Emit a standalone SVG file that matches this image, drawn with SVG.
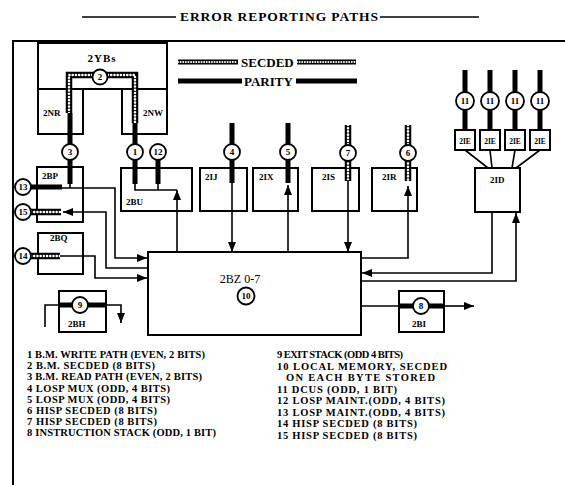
<svg xmlns="http://www.w3.org/2000/svg" width="565" height="485" viewBox="0 0 565 485">
<defs>
<style>
.box{fill:none;stroke:#000;stroke-width:2}
.ln{fill:none;stroke:#000;stroke-width:1.6}
.par{fill:none;stroke:#000;stroke-width:5}
.sx{fill:none;stroke:#000;stroke-width:6.5}
.si{fill:none;stroke:#fff;stroke-width:2.6;stroke-dasharray:0.01 3.2;stroke-linecap:round}
.cir{fill:#fff;stroke:#000;stroke-width:1.8}
.cn{font-family:"Liberation Serif","Times New Roman",serif;font-weight:bold;font-size:9px;text-anchor:middle}
.lb{font-family:"Liberation Serif","Times New Roman",serif;font-weight:bold;font-size:9px}
.lbs{font-family:"Liberation Serif","Times New Roman",serif;font-weight:bold;font-size:7.5px;text-anchor:middle}
.leg{font-family:"Liberation Serif","Times New Roman",serif;font-weight:bold;font-size:10.5px}
.key{font-family:"Liberation Serif","Times New Roman",serif;font-weight:bold;font-size:13px}
</style>
<marker id="ah" viewBox="0 0 10 8" refX="10" refY="4" markerWidth="10" markerHeight="8" markerUnits="userSpaceOnUse" orient="auto"><path d="M0,0 L10,4 L0,8 z" fill="#000"/></marker>
</defs>
<rect width="565" height="485" fill="#fff"/>

<g id="title">
<path class="ln" d="M82,17 H176 M380,17 H479"/>
<text x="180" y="21" textLength="198" lengthAdjust="spacing" font-family="Liberation Serif, Times New Roman, serif" font-weight="bold" font-size="13.5">ERROR REPORTING PATHS</text>
</g>

<g id="frame"><path d="M13,485 V41 H565" fill="none" stroke="#000" stroke-width="2"/></g>

<g id="key">
<path class="sx" d="M178,62 H238 M297,62 H356" style="stroke-width:5"/>
<path class="si" d="M178,62 H238 M297,62 H356" style="stroke-width:2;stroke-dasharray:0.01 2.6"/>
<text class="key" x="241" y="67">SECDED</text>
<path class="par" d="M178,81 H242 M296,81 H357"/>
<text class="key" x="244" y="86">PARITY</text>
</g>

<g id="n-2YBs"><rect class="box" x="38" y="43" width="129" height="46"/><text x="102" y="62" font-family="Liberation Serif, serif" font-weight="bold" font-size="11" letter-spacing="1" text-anchor="middle">2YBs</text></g>
<g id="n-2NR"><rect class="box" x="38" y="89" width="45" height="45"/><text class="lb" x="43" y="116">2NR</text></g>
<g id="n-2NW"><rect class="box" x="122" y="89" width="45" height="45"/><text class="lb" x="143" y="116">2NW</text></g>
<g id="n-2BP"><rect class="box" x="37" y="167" width="46" height="55"/><text class="lb" x="42" y="179">2BP</text></g>
<g id="n-2BQ"><rect class="box" x="38" y="233" width="45" height="41"/><text class="lb" x="50" y="241">2BQ</text></g>
<g id="n-2BU"><rect class="box" x="121" y="168" width="71" height="43"/><text class="lb" x="126" y="205" font-size="9.5">2BU</text></g>
<g id="n-2IJ"><rect class="box" x="200" y="168" width="47" height="43"/><text class="lb" x="205" y="180" font-size="8.5">2IJ</text></g>
<g id="n-2IX"><rect class="box" x="253" y="168" width="45" height="43"/><text class="lb" x="259" y="180" font-size="8.5">2IX</text></g>
<g id="n-2IS"><rect class="box" x="312" y="168" width="47" height="43"/><text class="lb" x="322" y="180" font-size="8.5">2IS</text></g>
<g id="n-2IR"><rect class="box" x="372" y="168" width="45" height="43"/><text class="lb" x="382" y="180" font-size="8.5">2IR</text></g>
<g id="n-2ID"><rect class="box" x="475" y="168" width="45" height="44"/><text class="lb" x="490" y="183">2ID</text></g>
<g id="n-2IE-1"><rect class="box" x="455" y="130" width="20" height="20"/><text class="lbs" x="465" y="143.5">2IE</text></g>
<g id="n-2IE-2"><rect class="box" x="480" y="130" width="20" height="20"/><text class="lbs" x="490" y="143.5">2IE</text></g>
<g id="n-2IE-3"><rect class="box" x="505" y="130" width="20" height="20"/><text class="lbs" x="515" y="143.5">2IE</text></g>
<g id="n-2IE-4"><rect class="box" x="530" y="130" width="20" height="20"/><text class="lbs" x="540" y="143.5">2IE</text></g>
<g id="n-2BZ"><rect class="box" x="148" y="252" width="213" height="83"/><text x="240" y="283" font-family="Liberation Serif, serif" font-size="12" text-anchor="middle">2BZ 0-7</text></g>
<g id="n-2BH"><rect class="box" x="59" y="291" width="47" height="41"/><text class="lb" x="68" y="327" font-size="9.5">2BH</text></g>
<g id="n-2BI"><rect class="box" x="399" y="291" width="45" height="41"/><text class="lb" x="412" y="327" font-size="9.5">2BI</text></g>

<g id="connectors">
<path class="sx" d="M69,113 V75 H135 V123 M348,125 V181 M408,125 V181 M31,212 H61 M31,256 H60"/>
<path class="si" d="M69,113 V75 H135 V123 M348,125 V181 M408,125 V181 M31,212 H61 M31,256 H60"/>
<path class="par" d="M70,113 V184 M135,123 V184 M158,160 V184 M232,123 V183 M288,123 V183 M465,70 V130 M490,70 V130 M515,70 V130 M540,70 V130 M31,187 H62 M59,305 H106 M399,306 H444"/>
<path class="ln" d="M70,183 V188 M62,188 H115 V258 H147" marker-end="url(#ah)"/>
<path class="ln" d="M148,268 H106 V212 H63" marker-end="url(#ah)"/>
<path class="ln" d="M60,256 H95 V278 H147" marker-end="url(#ah)"/>
<path class="ln" d="M135,183 V190 H177 M158,183 V190"/>
<path class="ln" d="M177,252 V190" marker-end="url(#ah)"/>
<path class="ln" d="M232,183 V252" marker-end="url(#ah)"/>
<path class="ln" d="M288,252 V185" marker-end="url(#ah)"/>
<path class="ln" d="M348,180 V252" marker-end="url(#ah)"/>
<path class="ln" d="M361,258 H408 V186" marker-end="url(#ah)"/>
<path class="ln" d="M492,212 V273 H362" marker-end="url(#ah)"/>
<path class="ln" d="M361,281 H516 V213" marker-end="url(#ah)"/>
<path class="ln" d="M465,150 L488,168 M490,150 L492,168 M515,150 L512,168 M540,150 L516,168"/>
<path class="ln" d="M45,327 V305 H59"/>
<path class="ln" d="M106,305 H121 V323" marker-end="url(#ah)"/>
<path class="ln" d="M361,306 H399"/>
<path class="ln" d="M444,306 H474" marker-end="url(#ah)"/>
<g><circle class="cir" cx="100" cy="77" r="7.5"/><text class="cn" x="100" y="80">2</text></g>
<g><circle class="cir" cx="70" cy="152" r="8"/><text class="cn" x="70" y="155">3</text></g>
<g><circle class="cir" cx="135" cy="152" r="8"/><text class="cn" x="135" y="155">1</text></g>
<g><circle class="cir" cx="158" cy="152" r="8"/><text class="cn" x="158" y="155">12</text></g>
<g><circle class="cir" cx="232" cy="152" r="8"/><text class="cn" x="232" y="155">4</text></g>
<g><circle class="cir" cx="288" cy="152" r="8"/><text class="cn" x="288" y="155">5</text></g>
<g><circle class="cir" cx="348" cy="153" r="8"/><text class="cn" x="348" y="156">7</text></g>
<g><circle class="cir" cx="408" cy="153" r="8"/><text class="cn" x="408" y="156">6</text></g>
<g><circle class="cir" cx="465" cy="101" r="9"/><text class="cn" x="465" y="104">11</text></g>
<g><circle class="cir" cx="490" cy="101" r="9"/><text class="cn" x="490" y="104">11</text></g>
<g><circle class="cir" cx="515" cy="101" r="9"/><text class="cn" x="515" y="104">11</text></g>
<g><circle class="cir" cx="540" cy="101" r="9"/><text class="cn" x="540" y="104">11</text></g>
<g><circle class="cir" cx="23" cy="187" r="8"/><text class="cn" x="23" y="190">13</text></g>
<g><circle class="cir" cx="23" cy="212" r="8"/><text class="cn" x="23" y="215">15</text></g>
<g><circle class="cir" cx="23" cy="256" r="8"/><text class="cn" x="23" y="259">14</text></g>
<g><circle class="cir" cx="80" cy="305" r="8"/><text class="cn" x="80" y="308">9</text></g>
<g><circle class="cir" cx="421" cy="306" r="8"/><text class="cn" x="421" y="309">8</text></g>
<g><circle class="cir" cx="246" cy="296" r="8.5"/><text class="cn" x="246" y="299">10</text></g>
</g>

<g id="legend">
<text class="leg" x="27" y="358" textLength="178" lengthAdjust="spacing">1 B.M. WRITE PATH (EVEN, 2 BITS)</text>
<text class="leg" x="27" y="369.2" textLength="128" lengthAdjust="spacing">2 B.M. SECDED (8 BITS)</text>
<text class="leg" x="27" y="380.4" textLength="175" lengthAdjust="spacing">3 B.M. READ PATH (EVEN, 2 BITS)</text>
<text class="leg" x="27" y="391.6" textLength="143" lengthAdjust="spacing">4 LOSP MUX (ODD, 4 BITS)</text>
<text class="leg" x="27" y="402.8" textLength="143" lengthAdjust="spacing">5 LOSP MUX (ODD, 4 BITS)</text>
<text class="leg" x="27" y="414" textLength="130" lengthAdjust="spacing">6 HISP SECDED (8 BITS)</text>
<text class="leg" x="27" y="425.2" textLength="130" lengthAdjust="spacing">7 HISP SECDED (8 BITS)</text>
<text class="leg" x="27" y="436.4" textLength="189" lengthAdjust="spacing">8 INSTRUCTION STACK (ODD, 1 BIT)</text>
<text class="leg" x="277" y="358" textLength="126" lengthAdjust="spacing">9 EXIT STACK (ODD 4 BITS)</text>
<text class="leg" x="277" y="369.5" textLength="170" lengthAdjust="spacing">10 LOCAL MEMORY, SECDED</text>
<text class="leg" x="286" y="381" textLength="149" lengthAdjust="spacing">ON EACH BYTE STORED</text>
<text class="leg" x="277" y="392.5" textLength="120" lengthAdjust="spacing">11 DCUS (ODD, 1 BIT)</text>
<text class="leg" x="277" y="404" textLength="168" lengthAdjust="spacing">12 LOSP MAINT.(ODD, 4 BITS)</text>
<text class="leg" x="277" y="415.5" textLength="168" lengthAdjust="spacing">13 LOSP MAINT.(ODD, 4 BITS)</text>
<text class="leg" x="277" y="427" textLength="140" lengthAdjust="spacing">14 HISP SECDED (8 BITS)</text>
<text class="leg" x="277" y="438.5" textLength="140" lengthAdjust="spacing">15 HISP SECDED (8 BITS)</text>
</g>
</svg>
